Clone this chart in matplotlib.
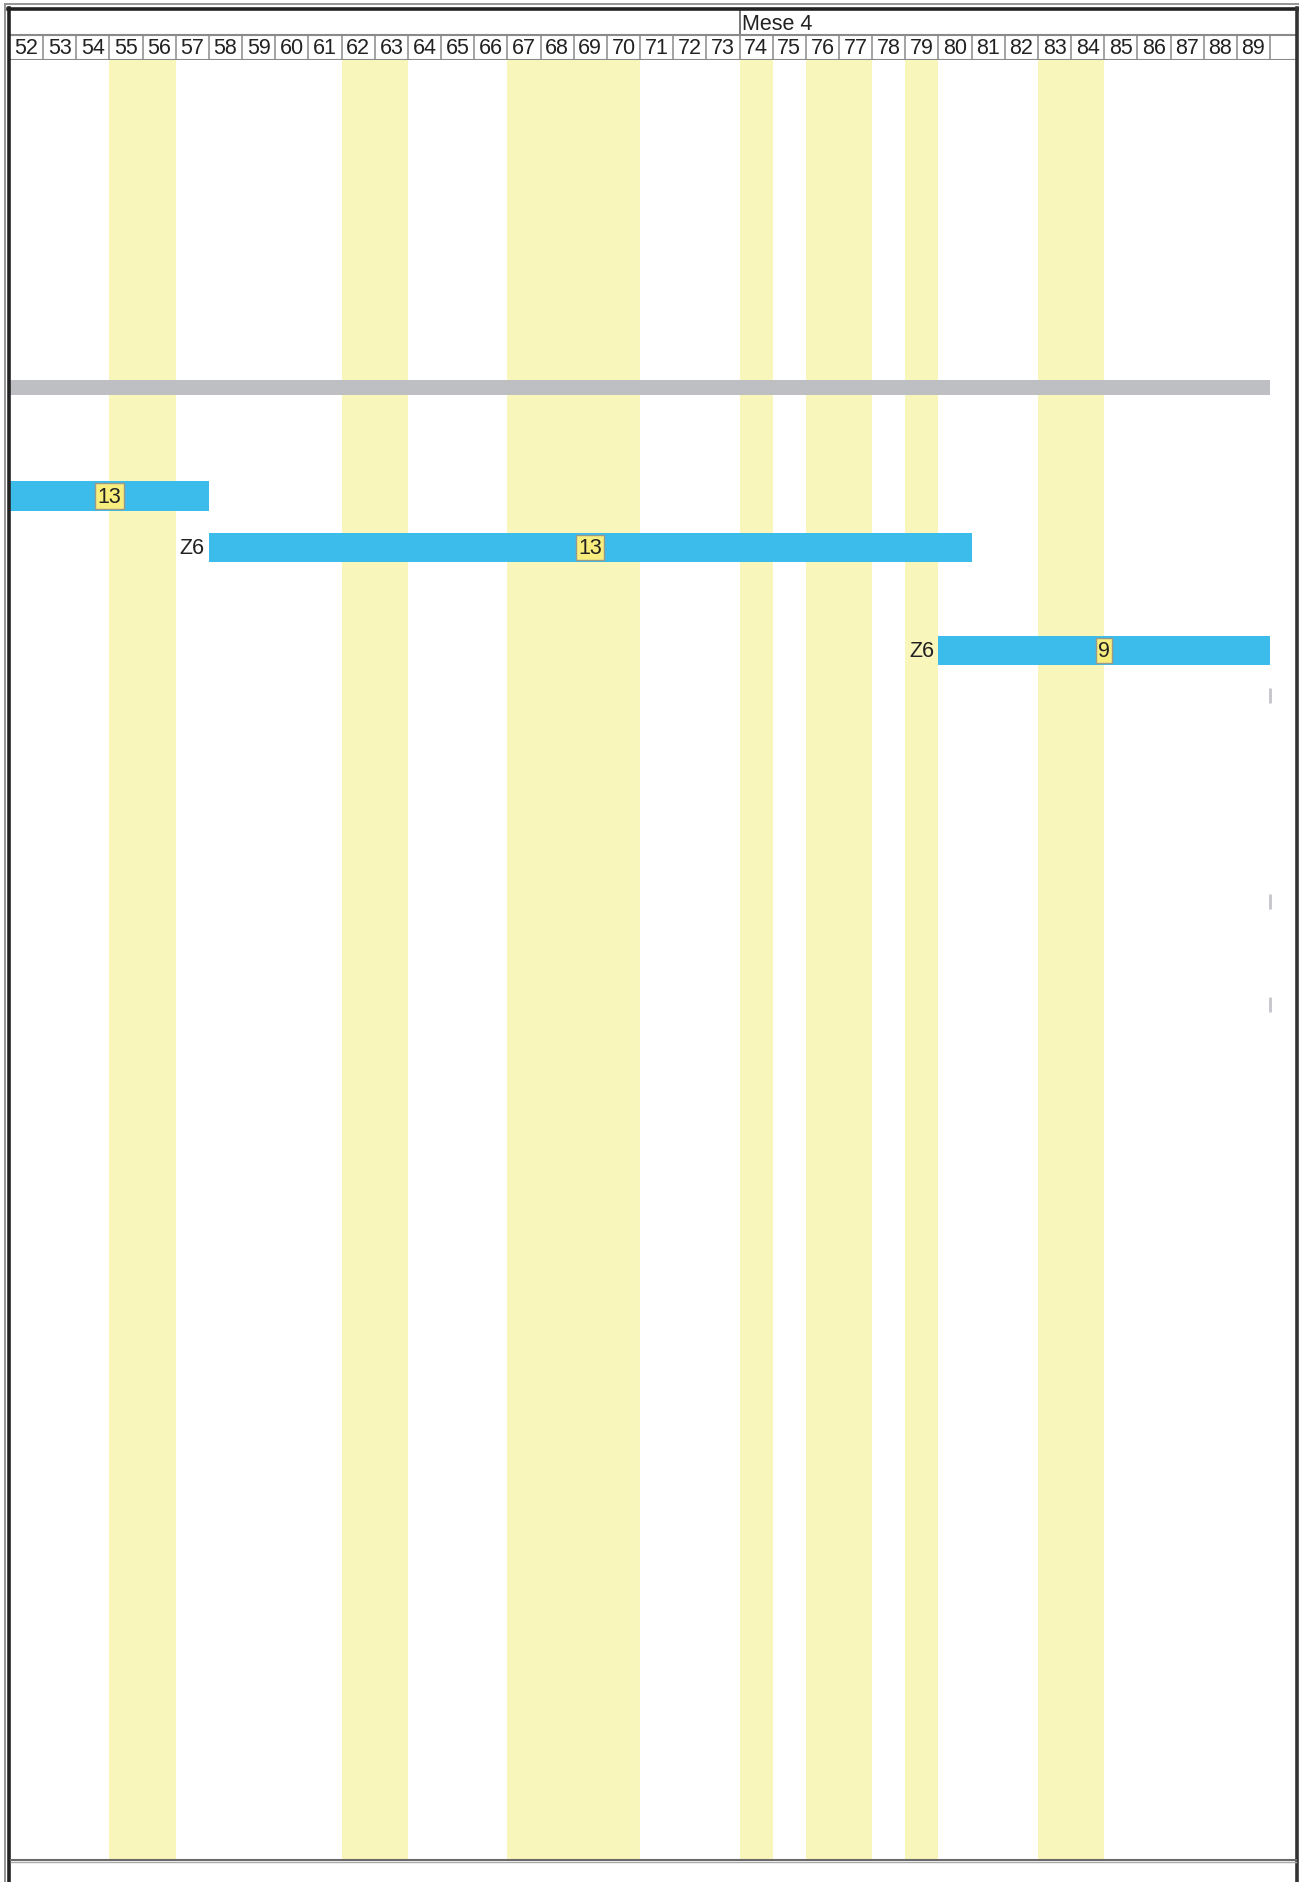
import matplotlib
matplotlib.use("Agg")
import matplotlib.pyplot as plt

plt.rcParams['font.family'] = ['Liberation Sans', 'DejaVu Sans']

# data
days = list(range(52, 90))
holidays = [55, 56, 62, 63, 67, 68, 69, 70, 74, 76, 77, 79, 83, 84]
month_label = "Mese 4"
month_start = 74

# summary bar (row, first day, last day)
summary_row = 0
summary_start = 52
summary_end = 89

# task bars
task_rows = [2, 3, 5]
task_starts = [52, 58, 80]
task_ends = [57, 80, 89]
task_values = ["13", "13", "9"]
task_prefix = ["", "Z6", "Z6"]

# zero-length items at the end of the visible range
mark_rows = [6, 10, 12]
mark_day = 90

W, H = 1299, 1883
COL = 33.16      # pixel width of one day
X0 = 10          # left pixel of day 52
GUTTER_R = 1296
FS = 15.5

fig = plt.figure(figsize=(W / 100, H / 100), dpi=100)

def fig_rect(x0, y0, x1, y1):
    return [x0 / W, 1 - y1 / H, (x1 - x0) / W, (y1 - y0) / H]

xmax = 52 + (GUTTER_R - X0) / COL

# ---- body
body = fig.add_axes(fig_rect(X0, 61, GUTTER_R, 1861))
body.set_xlim(52, xmax)
body.set_ylim(28.485, -6.466)
body.axis('off')

for d in holidays:
    body.axvspan(d, d + 1, color='#F8F6BA', lw=0, zorder=0)

body.barh(summary_row - 0.105, summary_end + 1 - summary_start, left=summary_start,
          height=0.29, color='#BEBFC3', lw=0, zorder=2)

for r, s, e, v, p in zip(task_rows, task_starts, task_ends, task_values, task_prefix):
    body.barh(r, e + 1 - s, left=s, height=0.58, color='#3BBCEB', lw=0, zorder=3)
    body.text((s + e + 1) / 2, r, v, ha='center', va='center', fontsize=FS,
              color='#222222', zorder=5,
              bbox=dict(boxstyle='square,pad=0.1', fc='#F8EE7E', ec='#9A9A8A', lw=1))
    if p:
        body.annotate(p, (s, r), xytext=(-3, 0), textcoords='offset points',
                      ha='right', va='center', fontsize=FS, color='#222222')

for r in mark_rows:
    body.vlines(mark_day, r - 0.27, r + 0.02, color='#C4C4CC', lw=2, zorder=3)

# ---- header
head = fig.add_axes(fig_rect(X0, 11, GUTTER_R, 61))
head.set_xlim(52, xmax)
head.set_ylim(2, 0)
head.axis('off')

for d in days:
    head.text(d + 0.5, 1.52, str(d), ha='center', va='center', fontsize=FS, color='#222222')
for d in days[1:] + [90]:
    head.plot([d, d], [1, 2], color='#8a8a8a', lw=1.1, solid_capstyle='butt')
head.plot([month_start, month_start], [0, 1], color='#555555', lw=1.1)
head.text(month_start + 0.08, 0.52, month_label, ha='left', va='center', fontsize=FS, color='#222222')
head.plot([52, xmax], [1, 1], color='#8a8a8a', lw=1.5)
head.plot([52, xmax], [2, 2], color='#8a8a8a', lw=1.5)

# ---- outer frame (pixel overlay)
frame = fig.add_axes([0, 0, 1, 1])
frame.set_xlim(0, W)
frame.set_ylim(H, 0)
frame.axis('off')
frame.plot([5, 5], [5, H], color='#8c8c8c', lw=1.3)
frame.plot([5, W], [5, 5], color='#8c8c8c', lw=1.3)
frame.plot([9.5, 9.5], [8.5, H], color='#222222', lw=2.6)
frame.plot([8.5, W], [10, 10], color='#222222', lw=2.6)
frame.plot([1297.5, 1297.5], [8.5, H], color='#333333', lw=2.6)
frame.plot([11, GUTTER_R], [1861, 1861], color='#6a6a6a', lw=1.5)
frame.plot([11, GUTTER_R], [1862.5, 1862.5], color='#aaaaaa', lw=1)

fig.savefig("out.png", dpi=100)
